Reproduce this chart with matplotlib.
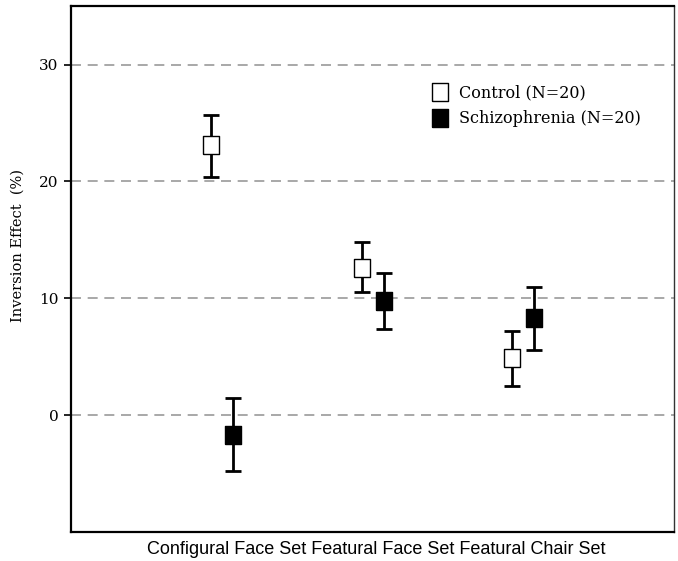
import numpy as np
import matplotlib
matplotlib.use("Agg")
from matplotlib import pyplot as plt

categories = ["Configural Face Set", "Featural Face Set", "Featural Chair Set"]
control_mean = [23.1, 12.6, 4.85]
control_upper = [25.7, 14.8, 7.2]
control_lower = [20.4, 10.5, 2.5]
schizo_mean = [-1.7, 9.8, 8.3]
schizo_upper = [1.45, 12.2, 11.0]
schizo_lower = [-4.8, 7.4, 5.6]
y_ticks = [0, 10, 20, 30]


def main():
    fig = plt.figure(figsize=(6.78, 5.61), dpi=100)
    ax = fig.add_axes([0.105, 0.052, 0.889, 0.937])

    x = np.arange(1, len(categories) + 1)
    offset = 0.073

    for yv in y_ticks:
        ax.axhline(yv, color="#9a9a9a", linestyle=(0, (6, 4)), linewidth=1.2, zorder=0)

    # rectangle marker, a bit taller than wide
    box = [(-1, -1.2), (1, -1.2), (1, 1.2), (-1, 1.2), (-1, -1.2)]

    for means, upper, lower, face, label, dx in [
        (control_mean, control_upper, control_lower, "white", "Control (N=20)", -offset),
        (schizo_mean, schizo_upper, schizo_lower, "black", "Schizophrenia (N=20)", offset),
    ]:
        m = np.array(means)
        err = [m - np.array(lower), np.array(upper) - m]
        ax.errorbar(x + dx, m, yerr=err, fmt="none", ecolor="black",
                    elinewidth=2, capsize=6, capthick=2, zorder=2)
        ax.plot(x + dx, m, linestyle="none", marker=box, markersize=13.5,
                markerfacecolor=face, markeredgecolor="black",
                markeredgewidth=1.0, label=label, zorder=3)

    ax.set_xlim(0, 4)
    ax.set_ylim(-10, 35)
    ax.set_xticks([])
    # the original category labels run together as one line under the axis
    ax.text(0.126, -0.018, " ".join(categories), transform=ax.transAxes,
            ha="left", va="top", family="Liberation Sans", fontsize=13)

    ax.set_yticks(y_ticks)
    ax.set_yticklabels([str(v) for v in y_ticks], family="DejaVu Serif", fontsize=11)
    ax.tick_params(axis="y", length=5, width=1.2, direction="out", pad=4)

    ax.set_ylabel("Inversion Effect  (%)", family="DejaVu Serif", fontsize=10.5)
    ax.yaxis.set_label_coords(-0.077, 0.545)

    for side in ["left", "bottom", "top"]:
        ax.spines[side].set_linewidth(1.6)
    ax.spines["right"].set_linewidth(1.0)
    ax.spines["right"].set_color("#333333")

    ax.legend(loc="upper left", bbox_to_anchor=(0.575, 0.878), frameon=False,
              prop={"family": "DejaVu Serif", "size": 11.5},
              handletextpad=0.7, labelspacing=0.55, handlelength=1.0)

    fig.savefig("out.png", dpi=100)


if __name__ == "__main__":
    main()
